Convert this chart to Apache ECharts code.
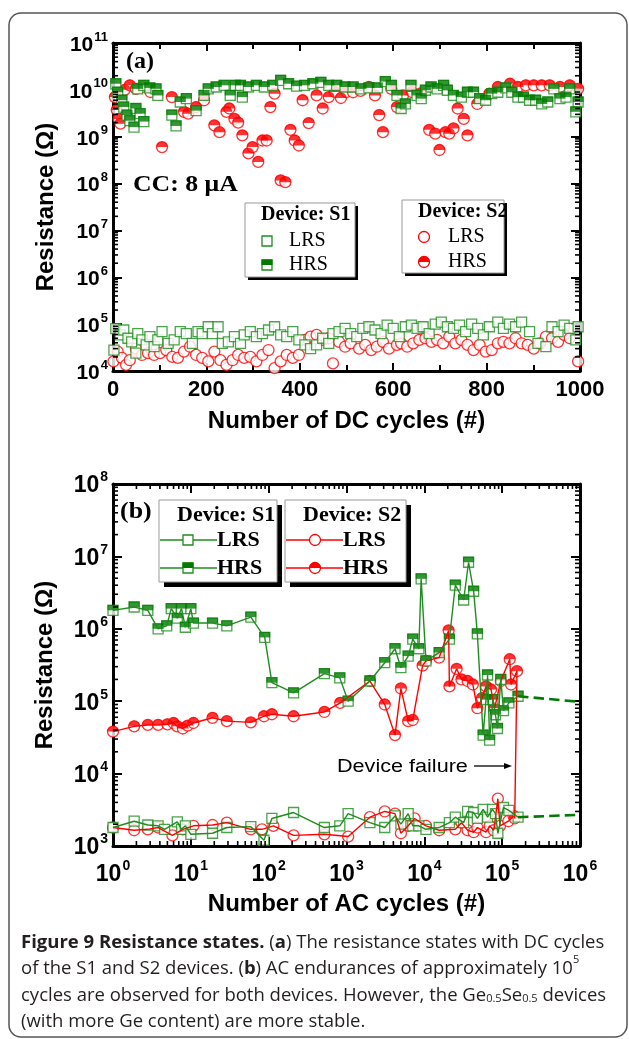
<!DOCTYPE html>
<html><head><meta charset="utf-8">
<script src="https://cdn.jsdelivr.net/npm/echarts@6/dist/echarts.min.js"></script>
<style>html,body{margin:0;padding:0;background:#fff}#c{width:629px;height:1039px}</style>
</head><body><div id="c"></div>
<script>
// ---------- Panel (a): DC cycles ----------
const aXTicks = [0, 200, 400, 600, 800, 1000];
const aYDecades = [4, 5, 6, 7, 8, 9, 10, 11];
const s1LrsDC = [[2,2.8e4],[6,8e4],[15,5.9e4],[23,7.5e4],[32,5e4],[40,4.2e4],[49,2.4e4],[53,6.3e4],[62,4.6e4],[71,3.6e4],[79,5.4e4],[88,3.3e4],[96,4.6e4],[105,6.9e4],[118,3.9e4],[131,4.6e4],[144,6.9e4],[157,6.3e4],[170,3.9e4],[182,6.9e4],[191,6.3e4],[204,8.8e4],[213,6.3e4],[225,8.8e4],[234,3.9e4],[247,4.2e4],[260,5.4e4],[273,3.9e4],[281,5.9e4],[294,6.9e4],[307,5.4e4],[320,6.3e4],[333,7.5e4],[346,8.8e4],[359,5.9e4],[372,5.4e4],[385,6.9e4],[398,4.6e4],[411,3.6e4],[423,3.0e4],[436,3.6e4],[449,5e4],[462,3.9e4],[471,6.3e4],[484,6.9e4],[497,8.1e4],[509,6.3e4],[522,5.4e4],[535,8.1e4],[548,8.8e4],[561,7.5e4],[574,6.3e4],[587,9.5e4],[600,8.1e4],[613,5.4e4],[626,8.8e4],[639,9.5e4],[651,8.1e4],[664,8.8e4],[677,6.3e4],[690,1.0e5],[703,1.1e5],[716,8.8e4],[729,8.1e4],[742,9.5e4],[755,6.9e4],[768,1.0e5],[781,8.1e4],[793,5.9e4],[806,8.8e4],[824,1.1e5],[836,8.1e4],[849,1.0e5],[862,8.8e4],[875,1.1e5],[892,6.9e4],[910,3.9e4],[927,3.3e4],[940,8.8e4],[953,6.9e4],[966,9.5e4],[978,8.1e4],[991,4.6e4],[996,8.8e4]];
const s1HrsDC = [[6,1.35e10],[10,8.9e9],[19,6e9],[23,4.3e9],[30,2.9e9],[36,2.2e9],[45,1.6e9],[49,4e9],[53,1.05e10],[58,3.1e9],[66,2.1e9],[66,1.25e10],[79,1.1e10],[92,1.05e10],[96,7.6e9],[126,2.9e9],[135,1.7e9],[144,5.5e9],[157,6.5e9],[178,3.6e9],[195,7.6e9],[204,1.05e10],[221,1.15e10],[238,1.25e10],[251,7.6e9],[262,1.25e10],[273,1.25e10],[277,7e9],[290,1.15e10],[307,1.25e10],[324,1.15e10],[342,1.25e10],[359,1.6e10],[376,1.35e10],[393,1.2e10],[410,1.25e10],[428,1.35e10],[445,1.45e10],[462,1.25e10],[479,1.25e10],[497,1.15e10],[514,1.15e10],[531,1.05e10],[548,1.1e10],[566,1.1e10],[583,1.5e10],[596,1.25e10],[608,7.6e9],[617,4e9],[626,5e9],[638,1.25e10],[651,7.6e9],[660,6.5e9],[669,9.8e9],[681,1.15e10],[694,1.05e10],[708,1.25e10],[716,9.8e9],[729,7.6e9],[746,7e9],[759,8.9e9],[772,8.9e9],[785,6.5e9],[798,6e9],[811,8.3e9],[824,8.9e9],[841,1.1e10],[854,8.9e9],[867,7e9],[879,7e9],[892,6e9],[905,6e9],[918,5e9],[931,5.5e9],[944,1.05e10],[957,6.5e9],[970,7e9],[978,1.05e10],[991,3.4e9],[996,5.5e9]];
const s2LrsDC = [[1,1.6e4],[10,2.6e4],[19,1.9e4],[28,1.35e4],[36,1.7e4],[49,3e4],[62,2.2e4],[75,2.4e4],[88,2.2e4],[101,2.4e4],[114,2.8e4],[127,2e4],[139,1.9e4],[152,2.6e4],[165,3.3e4],[178,2.2e4],[191,1.9e4],[204,1.6e4],[217,2.6e4],[230,1.7e4],[243,1.35e4],[256,1.7e4],[268,2.2e4],[281,1.9e4],[294,2e4],[307,1.6e4],[320,2.2e4],[333,2.8e4],[346,1.15e4],[359,1.6e4],[372,2.2e4],[385,1.9e4],[398,2.2e4],[411,4.6e4],[423,5.4e4],[436,5.9e4],[449,4.6e4],[462,5e4],[471,1.45e4],[484,4.2e4],[497,3.3e4],[509,3.9e4],[527,3e4],[540,3.6e4],[553,2.8e4],[565,3.3e4],[578,4.2e4],[591,3e4],[608,3.6e4],[617,3.9e4],[630,3.3e4],[643,3.9e4],[656,4.6e4],[669,5e4],[682,4.2e4],[694,4.6e4],[707,3.9e4],[720,5.4e4],[733,3.9e4],[746,4.6e4],[759,3.6e4],[772,2.8e4],[785,3.6e4],[798,2.6e4],[811,2.8e4],[824,3.9e4],[836,4.2e4],[849,3.9e4],[862,5e4],[875,3.9e4],[888,3.6e4],[901,3e4],[914,3.9e4],[927,5.4e4],[940,5e4],[953,4.2e4],[966,5.9e4],[978,5e4],[996,1.6e4]];
const s2HrsDC = [[4,7e9],[8,3.7e9],[12,2.4e9],[16,1.9e9],[25,1e10],[36,1.25e10],[49,1.05e10],[62,1.15e10],[80,9e9],[105,6e8],[126,7e9],[152,3.4e9],[161,3.1e9],[178,4.3e9],[195,6e9],[217,1.75e9],[228,1.25e9],[243,3.4e9],[249,4e9],[260,2.4e9],[268,2e9],[277,1.07e9],[290,4.4e8],[299,6e8],[311,2.9e8],[320,8.3e8],[329,8.3e8],[337,4.3e9],[346,8.3e9],[359,1.17e8],[369,1.07e8],[380,1.4e9],[389,8.3e8],[398,6.5e8],[406,6e9],[419,1.95e9],[436,7.6e9],[449,4e9],[462,7e9],[475,9e9],[488,6.7e9],[500,9e9],[514,8.9e9],[530,9.5e9],[548,1.15e10],[561,7.6e9],[570,2.9e9],[578,1.25e9],[596,1.05e10],[608,4.3e9],[621,7.6e9],[640,9e9],[660,8.5e9],[677,1.4e9],[690,1.16e9],[699,5.2e8],[712,1.25e9],[720,1.16e9],[729,1.5e9],[738,4e9],[751,2.4e9],[759,1.07e9],[780,5e9],[806,8.3e9],[824,1.15e10],[850,1.35e10],[867,1.15e10],[884,1.25e10],[901,1.25e10],[918,1.25e10],[935,1.25e10],[957,1.15e10],[978,1.25e10],[996,1.05e10]];

// ---------- Panel (b): AC cycles ----------
const bXDecades = [0, 1, 2, 3, 4, 5, 6];
const bYDecades = [3, 4, 5, 6, 7, 8];
const s1HrsAC = [[1,1.8e6],[1.87,2e6],[2.8,1.8e6],[3.8,1e6],[4.9,1.1e6],[5.6,1.9e6],[6.7,1.4e6],[7.6,1.9e6],[8.5,1.05e6],[10,1.9e6],[10.8,1.2e6],[19,1.2e6],[29,1.1e6],[59,1.45e6],[89,7.6e5],[110,1.8e5],[209,1.3e5],[520,2.4e5],[820,2.1e5],[1050,1e5],[2000,1.9e5],[3100,3.4e5],[4200,5.3e5],[5000,2.9e5],[6200,4.2e5],[7100,7.2e5],[8500,5.3e5],[9100,4.9e6],[10500,3.6e5],[15500,4.7e5],[21000,7.2e5],[25000,4e6],[32000,2.5e6],[37000,8.3e6],[43000,3.3e6],[48000,8.5e5],[57000,3.4e4],[62000,1.05e5],[65000,2.3e5],[69000,2.9e4],[76000,1.05e5],[82000,6.5e4],[87000,4.2e4],[96000,2e5],[104000,7.4e4],[122000,9.5e4],[160000,1.17e5]];
const s1LrsAC = [[1,1.8e3],[1.87,2.2e3],[2.8,1.95e3],[3.8,1.9e3],[4.6,1.7e3],[6.7,2.15e3],[7.6,1.7e3],[8.5,1.9e3],[10,1.45e3],[19,1.5e3],[29,1.8e3],[59,1.85e3],[87,1.2e3],[110,2.4e3],[209,2.9e3],[520,1.8e3],[820,1.9e3],[1050,2.8e3],[2000,2.1e3],[3100,1.8e3],[4200,2.6e3],[5000,2e3],[6200,2.8e3],[7100,1.9e3],[8500,1.9e3],[10500,1.7e3],[15500,1.8e3],[21000,2.1e3],[25000,2.5e3],[32000,2.1e3],[36000,3e3],[43000,2.9e3],[48000,2.4e3],[57000,3.2e3],[65000,2.5e3],[75000,3.2e3],[82000,2.8e3],[88000,1.5e3],[104000,3.4e3],[122000,3.1e3],[160000,2.5e3]];
const s2HrsAC = [[1,3.8e4],[1.87,4.5e4],[2.8,4.7e4],[3.8,4.7e4],[5,4.8e4],[6,5e4],[6.7,4.5e4],[7.9,4.2e4],[9.1,4.6e4],[10.8,5e4],[19,5.9e4],[29,5.3e4],[59,5.1e4],[87,6.2e4],[110,6.6e4],[209,6.2e4],[520,7.1e4],[830,9.5e4],[2000,1.9e5],[3100,9e4],[4200,3.4e4],[5000,1.5e5],[6200,5.3e4],[7100,5.5e4],[9500,3.1e5],[10500,3.6e5],[15500,4e5],[20500,9.5e5],[21000,1.6e5],[26000,2.8e5],[30000,2e5],[36000,1.9e5],[42000,1.7e5],[48000,8e4],[55000,1.1e5],[62000,1.6e5],[72000,1.45e5],[80000,8e4],[96000,1.9e5],[125000,3.8e5],[130000,1.7e5],[155000,2.6e5],[145000,2.4e3]];
const s2LrsAC = [[1,1.8e3],[1.87,1.65e3],[2.8,1.7e3],[3.8,1.8e3],[5.8,1.4e3],[7.9,1.7e3],[10.8,1.9e3],[19,1.95e3],[29,2.1e3],[59,1.7e3],[82,1.7e3],[115,1.9e3],[209,1.4e3],[520,1.45e3],[1050,1.35e3],[2000,2.5e3],[3100,3e3],[4200,2.8e3],[5000,1.5e3],[6200,1.9e3],[7500,2.4e3],[10500,1.9e3],[15500,1.65e3],[25000,1.7e3],[30000,2.1e3],[36000,1.65e3],[43000,1.55e3],[48000,1.8e3],[62000,1.55e3],[69000,1.9e3],[78000,1.65e3],[88000,4.5e3],[94000,1.9e3],[120000,2.2e3],[140000,2.6e3]];
const s1HrsExtrap = [[160000,1.17e5],[1e6,9.8e4]];
const s1LrsExtrap = [[160000,2.5e3],[1e6,2.7e3]];

// ---------- styling ----------
const GREEN = '#1e8c1e', DGREEN = '#007a00', RED = '#ff0000';
const SANS = 'Liberation Sans, Arial, sans-serif';
const SERIF = 'Liberation Serif, Times New Roman, serif';

function logMinor(decs) {
  const out = [];
  for (let i = 0; i < decs.length - 1; i++) for (let k = 2; k <= 9; k++) out.push(k * Math.pow(10, decs[i]));
  return out;
}
const aYMinor = logMinor(aYDecades);
const bYMinor = logMinor(bYDecades);
const bXMinor = logMinor(bXDecades);

function supLabel(size, supSize) {
  return {
    formatter: v => '{b|10}{s|' + Math.round(Math.log10(v)) + '}',
    rich: {
      b: {fontSize: size, fontWeight: 'bold', fontFamily: SANS, color: '#000', lineHeight: size + 4, verticalAlign: 'bottom'},
      s: {fontSize: supSize, fontWeight: 'bold', fontFamily: SANS, color: '#000', lineHeight: supSize, verticalAlign: 'top', padding: [0, 0, 0, 1]}
    }
  };
}
const axLine = {show: true, onZero: false, lineStyle: {color: '#000', width: 3}};
const tick = (len) => ({show: true, inside: true, length: len, lineStyle: {color: '#000', width: 2}});

function mirrorAxis(base, pos) {
  return Object.assign({}, base, {position: pos, axisLabel: {show: false}, name: ''});
}

const xA = {type: 'value', gridIndex: 0, min: aXTicks[0], max: aXTicks[aXTicks.length - 1], interval: aXTicks[1] - aXTicks[0], axisLine: axLine, axisTick: tick(8),
  minorTick: {show: true, splitNumber: 2, length: 6, lineStyle: {color: '#000', width: 2}}, splitLine: {show: false},
  axisLabel: {fontSize: 22, fontWeight: 'bold', fontFamily: SANS, color: '#000', margin: 8, formatter: v => String(v)},
  name: 'Number of DC cycles (#)', nameLocation: 'middle', nameGap: 38,
  nameTextStyle: {fontSize: 24, fontWeight: 'bold', fontFamily: SANS, color: '#000'}};
const yA = {type: 'log', logBase: 10, gridIndex: 0, min: 1e4, max: 1e11, axisLine: axLine, axisTick: tick(9),
  splitLine: {show: false}, minorTick: {show: false},
  axisLabel: Object.assign({margin: 5}, supLabel(21, 13)),
  name: 'Resistance (\u03A9)', nameLocation: 'middle', nameGap: 55, nameRotate: 90,
  nameTextStyle: {fontSize: 24, fontWeight: 'bold', fontFamily: SANS, color: '#000'}};
const xB = {type: 'log', logBase: 10, gridIndex: 1, min: 1, max: 1e6, axisLine: axLine, axisTick: tick(9),
  splitLine: {show: false}, minorTick: {show: false},
  axisLabel: Object.assign({margin: 13}, supLabel(23, 14)),
  name: 'Number of AC cycles (#)', nameLocation: 'middle', nameGap: 46,
  nameTextStyle: {fontSize: 24, fontWeight: 'bold', fontFamily: SANS, color: '#000'}};
const yB = {type: 'log', logBase: 10, gridIndex: 1, min: 1e3, max: 1e8, axisLine: axLine, axisTick: tick(9),
  splitLine: {show: false}, minorTick: {show: false},
  axisLabel: Object.assign({margin: 5}, supLabel(23, 14)),
  name: 'Resistance (\u03A9)', nameLocation: 'middle', nameGap: 56, nameRotate: 90,
  nameTextStyle: {fontSize: 24, fontWeight: 'bold', fontFamily: SANS, color: '#000'}};

function minorY(xIdx, yIdx, xMin, vals) {
  return {type: 'custom', xAxisIndex: xIdx, yAxisIndex: yIdx, silent: true, z: 6, clip: false,
    data: vals.map(v => [xMin, v]),
    renderItem: (p, api) => {
      const cs = p.coordSys; const y = api.coord([api.value(0), api.value(1)])[1]; const L = 5;
      const st = {stroke: '#000', lineWidth: 1.6};
      return {type: 'group', children: [
        {type: 'line', shape: {x1: cs.x, y1: y, x2: cs.x + L, y2: y}, style: st},
        {type: 'line', shape: {x1: cs.x + cs.width, y1: y, x2: cs.x + cs.width - L, y2: y}, style: st}]};
    }};
}
function minorX(xIdx, yIdx, yMin, vals) {
  return {type: 'custom', xAxisIndex: xIdx, yAxisIndex: yIdx, silent: true, z: 6, clip: false,
    data: vals.map(v => [v, yMin]),
    renderItem: (p, api) => {
      const cs = p.coordSys; const x = api.coord([api.value(0), api.value(1)])[0]; const L = 5;
      const st = {stroke: '#000', lineWidth: 1.6};
      return {type: 'group', children: [
        {type: 'line', shape: {x1: x, y1: cs.y + cs.height, x2: x, y2: cs.y + cs.height - L}, style: st},
        {type: 'line', shape: {x1: x, y1: cs.y, x2: x, y2: cs.y + L}, style: st}]};
    }};
}

const HALF_DISK = 'path://M0,10 A10,10 0 0 1 20,10 Z';
function sqOpen(data, xi, yi) {
  return {type: 'scatter', xAxisIndex: xi, yAxisIndex: yi, data, symbol: 'rect', symbolSize: 10,
    itemStyle: {color: '#fff', borderColor: GREEN, borderWidth: 1.3}, silent: true, animation: false};
}
function sqTop(data, xi, yi) {
  return {type: 'scatter', xAxisIndex: xi, yAxisIndex: yi, data, symbol: 'rect', symbolSize: [11, 5.5], symbolOffset: [0, -2.75],
    itemStyle: {color: DGREEN}, silent: true, animation: false};
}
function ciOpen(data, xi, yi) {
  return {type: 'scatter', xAxisIndex: xi, yAxisIndex: yi, data, symbol: 'circle', symbolSize: 11,
    itemStyle: {color: '#fff', borderColor: RED, borderWidth: 1.3}, silent: true, animation: false};
}
function ciTop(data, xi, yi) {
  return {type: 'scatter', xAxisIndex: xi, yAxisIndex: yi, data, symbol: HALF_DISK, symbolSize: [11.4, 5.7], symbolOffset: [0, -2.85],
    itemStyle: {color: RED}, silent: true, animation: false};
}
function lineOnly(data, color, dashed) {
  return {type: 'line', xAxisIndex: 1, yAxisIndex: 1, data, symbol: 'none', silent: true, animation: false,
    lineStyle: {color, width: dashed ? 2.6 : 1.4, type: dashed ? 'dashed' : 'solid'}};
}

// ---------- graphics (frame, legends, annotations, caption) ----------
function T(x, y, text, font, opt) {
  opt = opt || {};
  return {type: 'text', x, y, scaleX: opt.sx || 1, z: 100,
    style: {text, font, fill: opt.fill || '#000', align: opt.align || 'left', verticalAlign: 'middle', rich: opt.rich}};
}
function legendBox(x, y, w, h, sh) {
  return [
    {type: 'rect', shape: {x: x + sh, y: y + sh, width: w, height: h}, style: {fill: '#000'}, z: 90},
    {type: 'rect', shape: {x, y, width: w, height: h}, style: {fill: '#fff', stroke: '#999', lineWidth: 1}, z: 91}];
}
function gSq(cx, cy, half) {
  const a = [{type: 'rect', shape: {x: cx - 5, y: cy - 5, width: 10, height: 10}, style: {fill: '#fff', stroke: GREEN, lineWidth: 1.3}, z: 95}];
  if (half) a.push({type: 'rect', shape: {x: cx - 5.5, y: cy - 5.5, width: 11, height: 5.5}, style: {fill: DGREEN}, z: 96});
  return a;
}
function gCi(cx, cy, half) {
  const a = [{type: 'circle', shape: {cx, cy, r: 5.5}, style: {fill: '#fff', stroke: RED, lineWidth: 1.3}, z: 95}];
  if (half) a.push({type: 'sector', shape: {cx, cy, r: 5.7, r0: 0, startAngle: Math.PI, endAngle: 2 * Math.PI}, style: {fill: RED}, z: 96});
  return a;
}
function gLine(x1, x2, y, color) {
  return {type: 'line', shape: {x1, y1: y, x2, y2: y}, style: {stroke: color, lineWidth: 1.4}, z: 94};
}

const LEG_B = 'bold 20px ' + SERIF, LEG_R = '20px ' + SERIF, LEG_B2 = 'bold 22px ' + SERIF;
const graphics = [].concat(
  [{type: 'rect', shape: {x: 9, y: 13, width: 618, height: 1024, r: 12}, style: {fill: 'none', stroke: '#555', lineWidth: 1.5}, z: 1}],
  // panel a annotations
  [T(126, 62, '(a)', 'bold 24px ' + SERIF), T(133, 185, 'CC: 8 \u03BCA', 'bold 23px ' + SERIF, {sx: 1.12})],
  legendBox(245, 203, 110, 74, 3),
  [T(261, 215, 'Device: S1', LEG_B)], gSq(267, 241, false), [T(289, 241, 'LRS', LEG_R)], gSq(267, 265, true), [T(289, 265, 'HRS', LEG_R)],
  legendBox(402, 200, 102, 73, 3),
  [T(418, 212, 'Device: S2', LEG_B)], gCi(424, 237, false), [T(448, 237, 'LRS', LEG_R)], gCi(424, 262, true), [T(448, 262, 'HRS', LEG_R)],
  // panel b annotations
  [T(120, 512, '(b)', 'bold 24px ' + SERIF, {sx: 1.08})],
  legendBox(159, 500, 118, 82, 5),
  [T(177, 515, 'Device: S1', LEG_B2)], [gLine(160, 217, 540, GREEN)], gSq(188, 540, false), [T(217, 540, 'LRS', LEG_B2)],
  [gLine(160, 217, 568, GREEN)], gSq(188, 568, true), [T(217, 568, 'HRS', LEG_B2)],
  legendBox(285, 500, 121, 82, 5),
  [T(303, 515, 'Device: S2', LEG_B2)], [gLine(286, 343, 540, RED)], gCi(315, 540, false), [T(343, 540, 'LRS', LEG_B2)],
  [gLine(286, 343, 568, RED)], gCi(315, 568, true), [T(343, 568, 'HRS', LEG_B2)],
  [T(337, 767, 'Device failure', '18px ' + SANS, {sx: 1.2}),
   {type: 'line', shape: {x1: 474, y1: 766, x2: 506, y2: 766}, style: {stroke: '#000', lineWidth: 1.3}, z: 100},
   {type: 'polygon', shape: {points: [[504, 763], [512, 766], [504, 769]]}, style: {fill: '#000'}, z: 100}]
);

const CF = 'Open Sans, sans-serif';
const CAP_FONT = '18.5px ' + CF;
const capRich = {
  fb: {font: 'bold 18.5px ' + CF, fill: '#231f20', lineHeight: 24, verticalAlign: 'bottom'},
  bb: {font: 'bold 18.5px ' + CF, fill: '#231f20', lineHeight: 24, verticalAlign: 'bottom'},
  n: {font: CAP_FONT, fill: '#231f20', lineHeight: 24, verticalAlign: 'bottom'},
  sup: {font: '11px ' + CF, fill: '#231f20', lineHeight: 11, verticalAlign: 'top'},
  sub: {font: '11px ' + CF, fill: '#231f20', lineHeight: 10, verticalAlign: 'bottom'}
};
const capLines = [
  '{fb|Figure 9 Resistance states.}{n| (}{bb|a}{n|) The resistance states with DC cycles}',
  '{n|of the S1 and S2 devices. (}{bb|b}{n|) AC endurances of approximately 10}{sup|5}',
  '{n|cycles are observed for both devices. However, the Ge}{sub|0.5}{n|Se}{sub|0.5}{n| devices}',
  '{n|(with more Ge content) are more stable.}'
];
capLines.forEach((ln, i) => graphics.push(T(21, 940 + i * 26.4, ln, CAP_FONT, {rich: capRich, fill: '#231f20'})));

const option = {
  animation: false,
  backgroundColor: '#fff',
  grid: [{left: 113, top: 43, width: 467, height: 328}, {left: 113, top: 484, width: 467, height: 362}],
  xAxis: [xA, xB, mirrorAxis(xA, 'top'), mirrorAxis(xB, 'top')],
  yAxis: [yA, yB, mirrorAxis(yA, 'right'), mirrorAxis(yB, 'right')],
  series: [
    // panel a
    ciOpen(s2LrsDC, 0, 0), ciOpen(s2HrsDC, 0, 0), ciTop(s2HrsDC, 0, 0),
    sqOpen(s1LrsDC, 0, 0), sqOpen(s1HrsDC, 0, 0), sqTop(s1HrsDC, 0, 0),
    minorY(0, 0, 0, aYMinor),
    // panel b
    lineOnly(s2LrsAC, RED), lineOnly(s2HrsAC, RED),
    ciOpen(s2LrsAC, 1, 1), ciOpen(s2HrsAC, 1, 1), ciTop(s2HrsAC, 1, 1),
    lineOnly(s1HrsExtrap, DGREEN, true), lineOnly(s1LrsExtrap, DGREEN, true),
    lineOnly(s1LrsAC, GREEN), lineOnly(s1HrsAC, GREEN),
    sqOpen(s1LrsAC, 1, 1), sqOpen(s1HrsAC, 1, 1), sqTop(s1HrsAC, 1, 1),
    minorY(1, 1, 1, bYMinor), minorX(1, 1, 1e3, bXMinor)
  ],
  graphic: graphics
};
const chart = echarts.init(document.getElementById('c'));
chart.setOption(option);
</script></body></html>
